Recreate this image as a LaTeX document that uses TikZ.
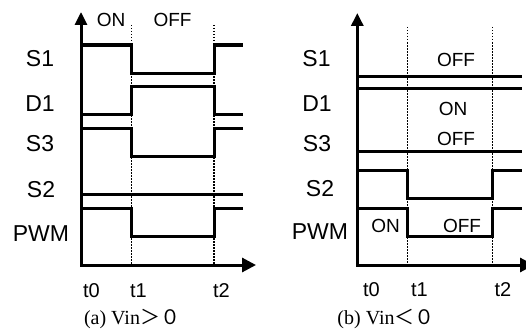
\documentclass[tikz,border=0pt]{standalone}
\usepackage{fontspec}
\setmainfont{Liberation Sans}
\newfontfamily\capserif{Liberation Serif}
\newfontfamily\cjk{Noto Sans CJK SC}
\usetikzlibrary{arrows.meta}
\begin{document}
\begin{tikzpicture}[x=1pt,y=-1pt,
  sig/.style={line width=3pt, line join=miter, line cap=rect},
  axes/.style={line width=3pt, line join=miter,
    {Triangle[length=13pt,width=12pt]}-{Triangle[length=14pt,width=14pt]}},
  guide/.style={line width=1.5pt, dash pattern=on 1.5pt off 1.5pt},
  lbl/.style={font=\fontsize{23}{23}\selectfont, inner sep=0pt},
  st/.style={font=\fontsize{19}{19}\selectfont, inner sep=0pt},
  tl/.style={font=\fontsize{20}{20}\selectfont, inner sep=0pt},
  capt/.style={font=\capserif\fontsize{20}{20}\selectfont, inner sep=0pt, anchor=base}]
\useasboundingbox (0,0) rectangle (526,329);
\clip (0,0) rectangle (526,329);
% ---------- panel (a) ----------
\draw[guide] (131.5,25) -- (131.5,265);
\draw[guide] (214,25) -- (214,265);
\draw[axes] (81,12) -- (81,265) -- (256,265);
\draw[sig] (81,45) -- (131.5,45) -- (131.5,73.3) -- (214,73.3) -- (214,45) -- (241,45);
\draw[sig] (81,114.3) -- (131.5,114.3) -- (131.5,86.7) -- (214,86.7) -- (214,114.3) -- (241,114.3);
\draw[sig] (81,128.3) -- (131.5,128.3) -- (131.5,156.7) -- (214,156.7) -- (214,128.3) -- (241,128.3);
\draw[sig] (81,194.3) -- (241,194.3);
\draw[sig] (81,208.3) -- (131.5,208.3) -- (131.5,236.7) -- (214,236.7) -- (214,208.3) -- (241,208.3);
\node[lbl] (aS1) at (40,58.5) {S1};
\node[lbl] (aD1) at (40,103.5) {D1};
\node[lbl] (aS3) at (40,143.5) {S3};
\node[lbl] (aS2) at (41,190) {S2};
\node[lbl] (aPWM) at (41,233.5) {PWM};
\node[st] (aON) at (111,20) {ON};
\node[st] (aOFF) at (172.5,20) {OFF};
\node[tl] (at0) at (91.5,290.5) {t0};
\node[tl] (at1) at (138.5,290.5) {t1};
\node[tl] (at2) at (221.5,290.5) {t2};
\node[capt] (acap) at (132,324) {(a) Vin{\cjk ＞０}};
% ---------- panel (b) ----------
\draw[guide] (407.3,27) -- (407.3,265);
\draw[guide] (492.3,27) -- (492.3,265);
\draw[axes] (357.3,13) -- (357.3,265) -- (534,265);
\draw[sig] (357.3,76) -- (520.7,76);
\draw[sig] (357.3,88.3) -- (520.7,88.3);
\draw[sig] (357.3,151.7) -- (520.7,151.7);
\draw[sig] (357.3,170) -- (407.3,170) -- (407.3,198.3) -- (492.3,198.3) -- (492.3,170) -- (520.7,170);
\draw[sig] (357.3,208.3) -- (407.3,208.3) -- (407.3,236) -- (492.3,236) -- (492.3,208.3) -- (520.7,208.3);
\node[lbl] (bS1) at (316.5,58.5) {S1};
\node[lbl] (bD1) at (317,103.5) {D1};
\node[lbl] (bS3) at (317,143.5) {S3};
\node[lbl] (bS2) at (320,188.5) {S2};
\node[lbl] (bPWM) at (320,232) {PWM};
\node[st] (bOFF1) at (456,60) {OFF};
\node[st] (bON1) at (453,108.5) {ON};
\node[st] (bOFF2) at (456,138.5) {OFF};
\node[st] (bON2) at (385.5,226) {ON};
\node[st] (bOFF3) at (462,225.5) {OFF};
\node[tl] (bt0) at (371.5,289.5) {t0};
\node[tl] (bt1) at (419.5,289.5) {t1};
\node[tl] (bt2) at (503,289.5) {t2};
\node[capt] (bcap) at (386,324) {(b) Vin{\cjk ＜０}};
\end{tikzpicture}
\end{document}
